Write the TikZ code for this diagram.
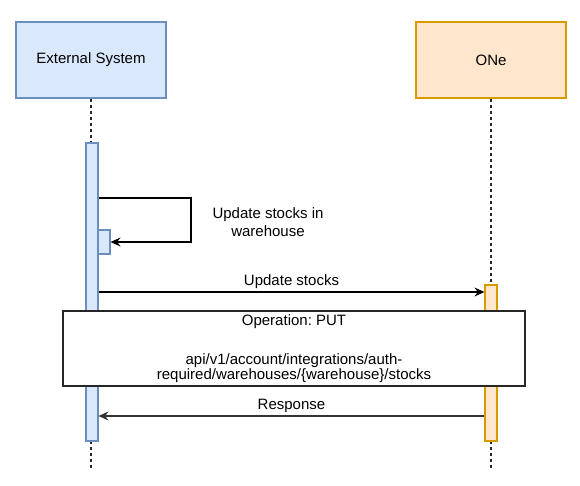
\documentclass[tikz,border=0pt]{standalone}
\usepackage{fontspec}
\setmainfont{Liberation Sans}
\usetikzlibrary{arrows.meta}
\definecolor{extfill}{HTML}{DAE8FC}
\definecolor{extline}{HTML}{6C8EBF}
\definecolor{onefill}{HTML}{FFE6CC}
\definecolor{oneline}{HTML}{D79B00}
\frenchspacing
\begin{document}
\begin{tikzpicture}[
    x=1pt, y=-1pt,
    font=\fontsize{15}{17.5}\selectfont,
    actor/.style={draw, line width=1.2pt, minimum width=150pt, minimum height=76pt, inner sep=0pt},
    life/.style={dash pattern=on 3pt off 3pt, line width=1.2pt, black!85},
    bar/.style={draw, line width=1.2pt, minimum width=12pt, inner sep=0pt},
    msg/.style={-{Stealth[length=10pt, width=9pt, inset=3.5pt]}, line width=1.1pt}
]
    \useasboundingbox (0,0) rectangle (580,485);

    \node[actor, draw=extline, fill=extfill] (ext) at (91,60) {External System};
    \node[actor, draw=oneline, fill=onefill] (one) at (491,60) {ONe};
    \coordinate (extend) at (91,470);
    \coordinate (oneend) at (491,470);
    \draw[life] (ext) -- (extend);
    \draw[life] (one) -- (oneend);

    \node[bar, draw=extline, fill=extfill, minimum height=298pt] (extbar) at (92,292) {};
    \node[bar, draw=extline, fill=extfill, minimum height=24pt] (subbar) at (104,242) {};
    \node[bar, draw=oneline, fill=onefill, minimum height=156pt] (onebar) at (491,363) {};

    % self call
    \coordinate (loop) at (191,198);
    \draw[msg] (extbar.east |- loop) -- (loop) |- (subbar.east);
    \node[align=center] (looplbl) at (268,222) {Update stocks in\\warehouse};

    \draw[msg] (extbar.east |- 0,292) -- (onebar.west |- 0,292)
        node[midway, above=0pt] (upd) {Update stocks};

    \node[draw, line width=1.2pt, black!85, fill=white, text=black, minimum width=462pt,
        minimum height=75pt, align=center, inner sep=0pt] (oper) at (294,348.5)
        {Operation: PUT\\[22pt]api/v1/account/integrations/auth-\\[-3pt]required/warehouses/\{warehouse\}/stocks};

    \draw[msg, black!80] (onebar.west |- 0,416) -- (extbar.east |- 0,416)
        node[midway, above=0pt, text=black] (resp) {Response};
\end{tikzpicture}
\end{document}
